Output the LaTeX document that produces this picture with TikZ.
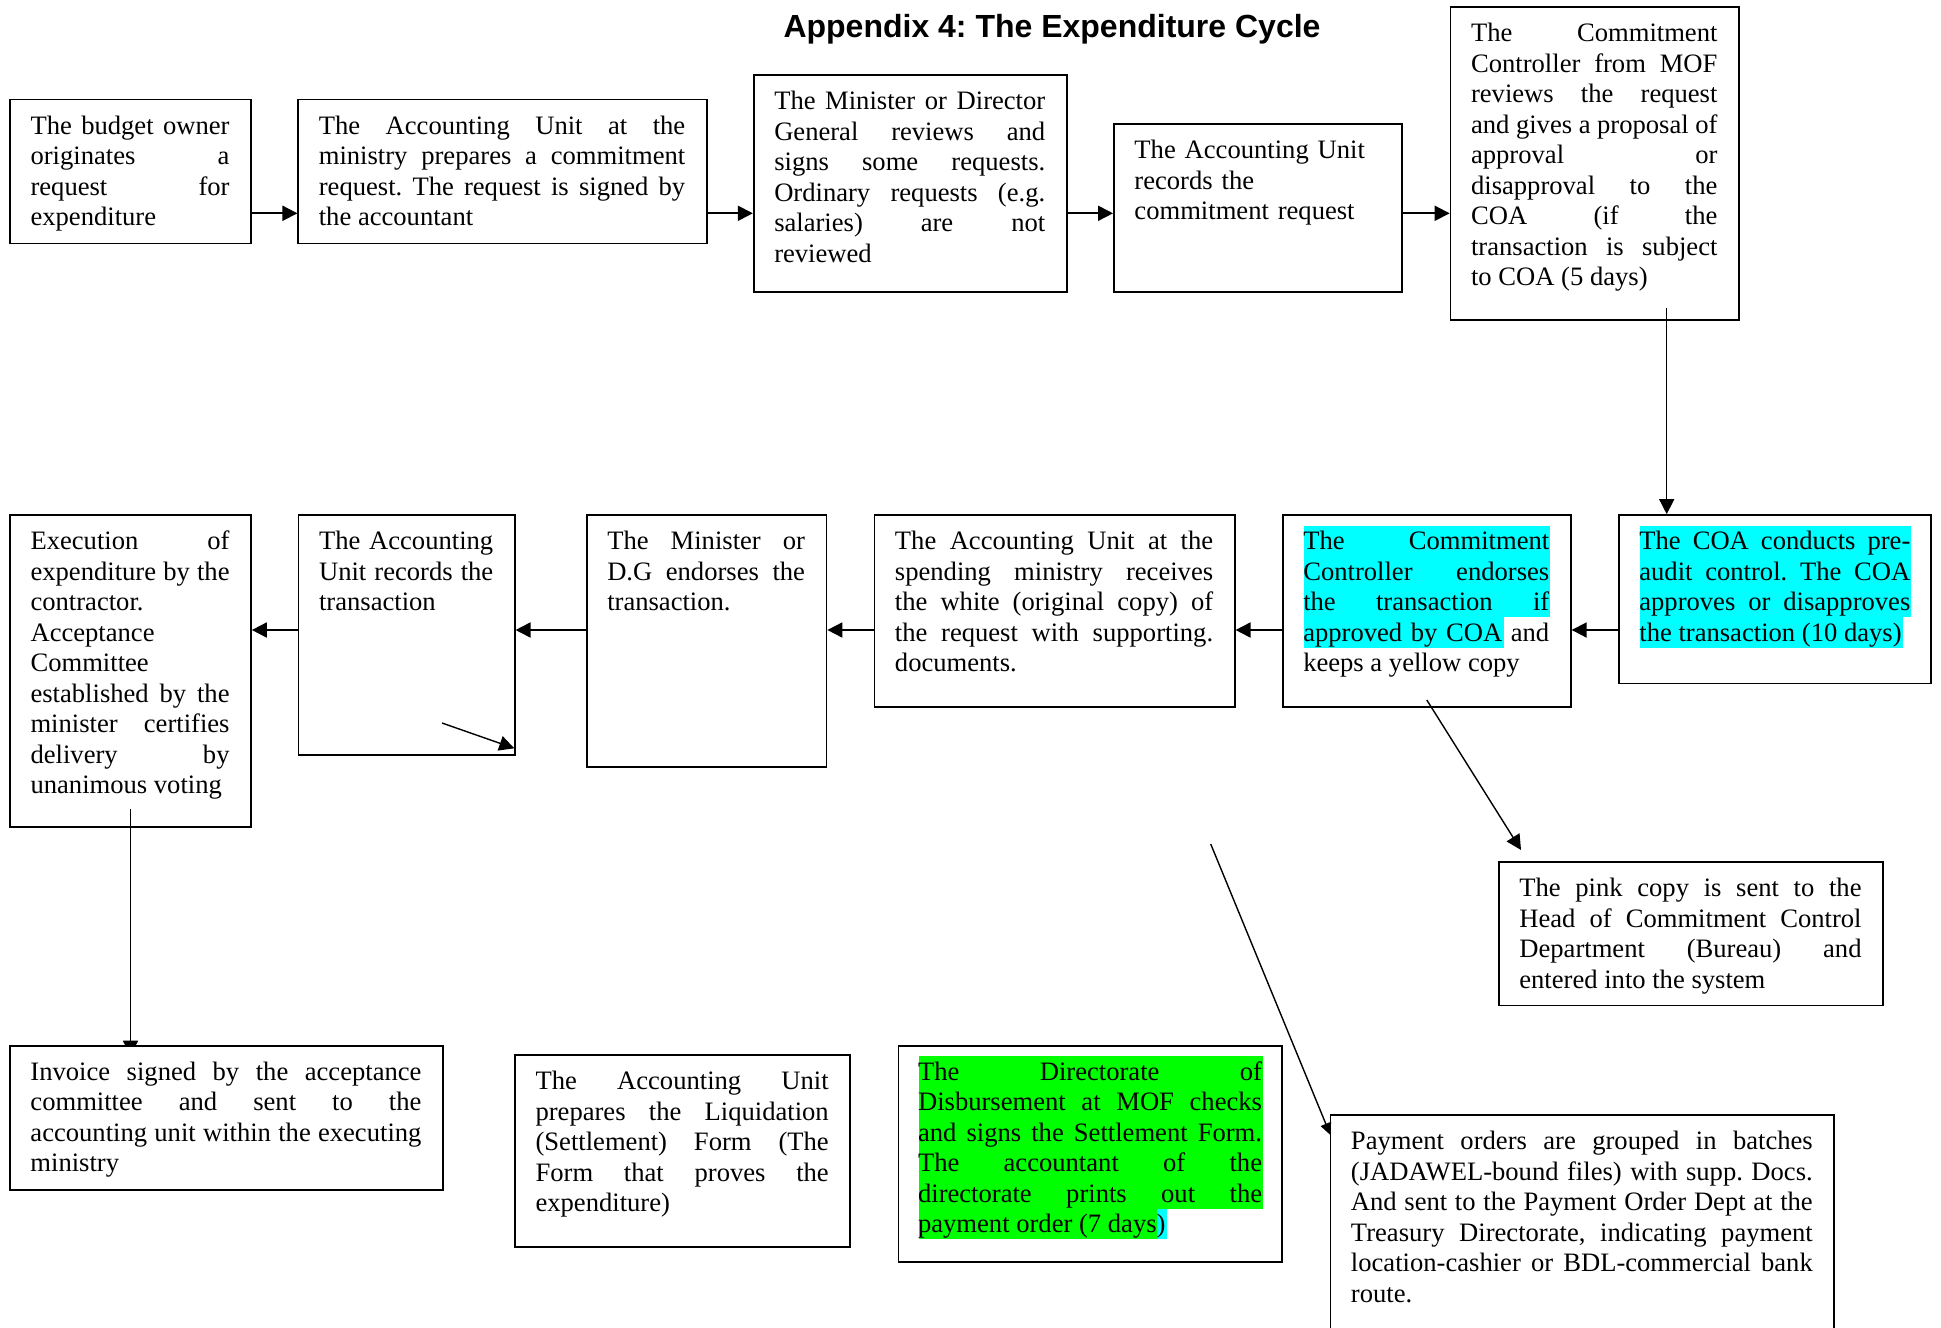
\documentclass[tikz,border=0pt]{standalone}
\usepackage{fontspec}
\setmainfont{Liberation Serif}
\newfontfamily\titlefont{Liberation Sans}
\usetikzlibrary{arrows.meta,fit}
\definecolor{hlcyan}{RGB}{0,255,255}
\definecolor{hlgreen}{RGB}{0,255,0}
\tikzset{
  boxst/.style={draw, fill=white, line width=0.85pt, inner sep=0pt},
  txt/.style={inner sep=0pt, anchor=base west, align=justify,
    font=\fontsize{13.3pt}{15.25pt}\selectfont,
    execute at begin node={\frenchspacing\tolerance=10000\hbadness=10000\hyphenpenalty=10000\exhyphenpenalty=10000}},
  arr/.style={line width=0.9pt, -{Triangle[length=7.5pt,width=7.5pt]}},
  thinarr/.style={line width=0.7pt, -{Triangle[length=7.5pt,width=7.5pt]}},
  smallarr/.style={line width=0.7pt, -{Triangle[length=6pt,width=5.5pt]}},
}
\begin{document}
\begin{tikzpicture}[x=0.5pt,y=-0.5pt]
\useasboundingbox (0,0) rectangle (1941,1327);
\clip (0,0) rectangle (1941,1327);

\node[font=\titlefont\bfseries\fontsize{16pt}{19pt}\selectfont\frenchspacing, anchor=base, inner sep=0pt] (title) at (1052,37.5) {Appendix 4: The Expenditure Cycle};

% row 1 boxes
\node[boxst, fit={(10,99.5) (251,243.5)}] (A) {};
\node[boxst, fit={(298.3,99.5) (706.7,243.5)}] (B) {};
\node[boxst, fit={(753.7,75) (1066.8,291.7)}] (C) {};
\node[boxst, fit={(1113.9,124) (1402.2,291.7)}] (D) {};
\node[boxst, fit={(1450.5,7.3) (1739,320)}] (E) {};
% row 2 boxes
\node[boxst, fit={(10,515) (251,827.3)}] (G) {};
\node[boxst, fit={(298.5,515) (514.7,755)}] (H) {};
\node[boxst, fit={(586.7,515) (826.5,767.3)}] (I) {};
\node[boxst, fit={(874.4,515) (1234.7,707)}] (J) {};
\node[boxst, fit={(1282.7,515) (1570.8,707)}] (K) {};
\node[boxst, fit={(1618.8,515) (1931,683.5)}] (L) {};
\node[boxst, fit={(1498.8,862) (1883,1005.5)}] (Q) {};

% arrow from G down to M (tip hidden by box M)
\coordinate (gs) at (130.5,809);
\coordinate (ge) at (130.5,1055.7);
\draw[thinarr] (gs) -- (ge);

% row 3 boxes
\node[boxst, fit={(9.9,1045.7) (443,1190)}] (M) {};
\node[boxst, fit={(515,1055) (850.2,1247.3)}] (N) {};
\node[boxst, fit={(898.5,1045.7) (1282.2,1262)}] (O) {};
\node[boxst, fit={(1330.4,1115) (1834.2,1360)}] (P) {};

% highlights
\fill[hlcyan] (1303.7,525.7) rectangle (1549.8,617.2);
\fill[hlcyan] (1303.7,617.2) rectangle (1503.5,647.7);
\fill[hlcyan] (1639.8,525.7) rectangle (1910.8,617.2);
\fill[hlcyan] (1639.8,617.2) rectangle (1903,647.7);
\fill[hlgreen] (918.5,1056.4) rectangle (1262.5,1208.9);
\fill[hlgreen] (918.5,1208.9) rectangle (1157,1239.4);
\fill[hlcyan] (1157,1208.9) rectangle (1166.5,1239.4);

% texts
\node[txt, text width=99.5pt] (At) at ([shift={(21,35.5)}]A.north west)
 {The budget owner\linebreak originates a\linebreak request for\linebreak expenditure};
\node[txt, text width=183.2pt] (Bt) at ([shift={(21,35.5)}]B.north west)
 {The Accounting Unit at the\linebreak ministry prepares a commitment\linebreak request. The request is signed by\linebreak the accountant};
\node[txt, text width=135.5pt] (Ct) at ([shift={(21,35.5)}]C.north west)
 {The Minister or Director\linebreak General reviews and\linebreak signs some requests.\linebreak Ordinary requests (e.g.\linebreak salaries) are not\linebreak reviewed};
\node[txt, text width=123pt, align=left] (Dt) at ([shift={(21,35.5)}]D.north west)
 {The Accounting Unit\\ records the\\ commitment request};
\node[txt, text width=123.2pt] (Et) at ([shift={(21,35.5)}]E.north west)
 {The Commitment\linebreak Controller from MOF\linebreak reviews the request\linebreak and gives a proposal of\linebreak approval or\linebreak disapproval to the\linebreak COA (if the\linebreak transaction is subject\linebreak to COA (5 days)};
\node[txt, text width=99.5pt] (Gt) at ([shift={(21,35.5)}]G.north west)
 {Execution of\linebreak expenditure by the\linebreak contractor.\\ Acceptance\\ Committee\\ established by the\linebreak minister certifies\linebreak delivery by\linebreak unanimous voting};
\node[txt, text width=87.1pt] (Ht) at ([shift={(21,35.5)}]H.north west)
 {The Accounting\linebreak Unit records the\linebreak transaction};
\node[txt, text width=98.9pt] (It) at ([shift={(21,35.5)}]I.north west)
 {The Minister or\linebreak D.G endorses the\linebreak transaction.};
\node[txt, text width=159.1pt] (Jt) at ([shift={(21,35.5)}]J.north west)
 {The Accounting Unit at the\linebreak spending ministry receives\linebreak the white (original copy) of\linebreak the request with supporting.\linebreak documents.};
\node[txt, text width=123pt] (Kt) at ([shift={(21,35.5)}]K.north west)
 {The Commitment\linebreak Controller endorses\linebreak the transaction if\linebreak approved by COA and\linebreak keeps a yellow copy};
\node[txt, text width=135.5pt] (Lt) at ([shift={(21,35.5)}]L.north west)
 {The COA conducts pre-\linebreak audit control. The COA\linebreak approves or disapproves\linebreak the transaction (10 days)};
\node[txt, text width=171.1pt] (Qt) at ([shift={(21,35.5)}]Q.north west)
 {The pink copy is sent to the\linebreak Head of Commitment Control\linebreak Department (Bureau) and\linebreak entered into the system};
\node[txt, text width=195.5pt] (Mt) at ([shift={(21,35.5)}]M.north west)
 {Invoice signed by the acceptance\linebreak committee and sent to the\linebreak accounting unit within the executing\linebreak ministry};
\node[txt, text width=146.6pt] (Nt) at ([shift={(21,35.5)}]N.north west)
 {The Accounting Unit\linebreak prepares the Liquidation\linebreak (Settlement) Form (The\linebreak Form that proves the\linebreak expenditure)};
\node[txt, text width=172pt] (Ot) at ([shift={(20,35.5)}]O.north west)
 {The Directorate of\linebreak Disbursement at MOF checks\linebreak and signs the Settlement Form.\linebreak The accountant of the\linebreak directorate prints out the\linebreak payment order (7 days)};
\node[txt, text width=230.9pt] (Pt) at ([shift={(21,35.5)}]P.north west)
 {Payment orders are grouped in batches\linebreak (JADAWEL-bound files) with supp. Docs.\linebreak And sent to the Payment Order Dept at the\linebreak Treasury Directorate, indicating payment\linebreak location-cashier or BDL-commercial bank\linebreak route.};

% row 1 connectors
\coordinate (r1) at (0,213.3);
\draw[arr] (A.east |- r1) -- (B.west |- r1);
\draw[arr] (B.east |- r1) -- (C.west |- r1);
\draw[arr] (C.east |- r1) -- (D.west |- r1);
\draw[arr] (D.east |- r1) -- (E.west |- r1);
% E down to L
\coordinate (es) at (1666.7,308.3);
\draw[thinarr] (es) -- (es |- L.north);
% row 2 connectors
\coordinate (r2) at (0,630);
\draw[arr] (L.west |- r2) -- (K.east |- r2);
\draw[arr] (K.west |- r2) -- (J.east |- r2);
\draw[arr] (J.west |- r2) -- (I.east |- r2);
\draw[arr] (I.west |- r2) -- (H.east |- r2);
\draw[arr] (H.west |- r2) -- (G.east |- r2);
% arrow inside H
\coordinate (hs) at (442,723);
\coordinate (he) at (514.3,748.3);
\draw[thinarr] (hs) -- (he);
% K to Q
\coordinate (ks) at (1426.8,700);
\coordinate (qe) at (1521,850);
\draw[thinarr] (ks) -- (qe);
% long line to P
\coordinate (ls) at (1210.7,844);
\coordinate (pe) at (1330.4,1135);
\draw[smallarr] (ls) -- (pe);
\end{tikzpicture}
\end{document}
